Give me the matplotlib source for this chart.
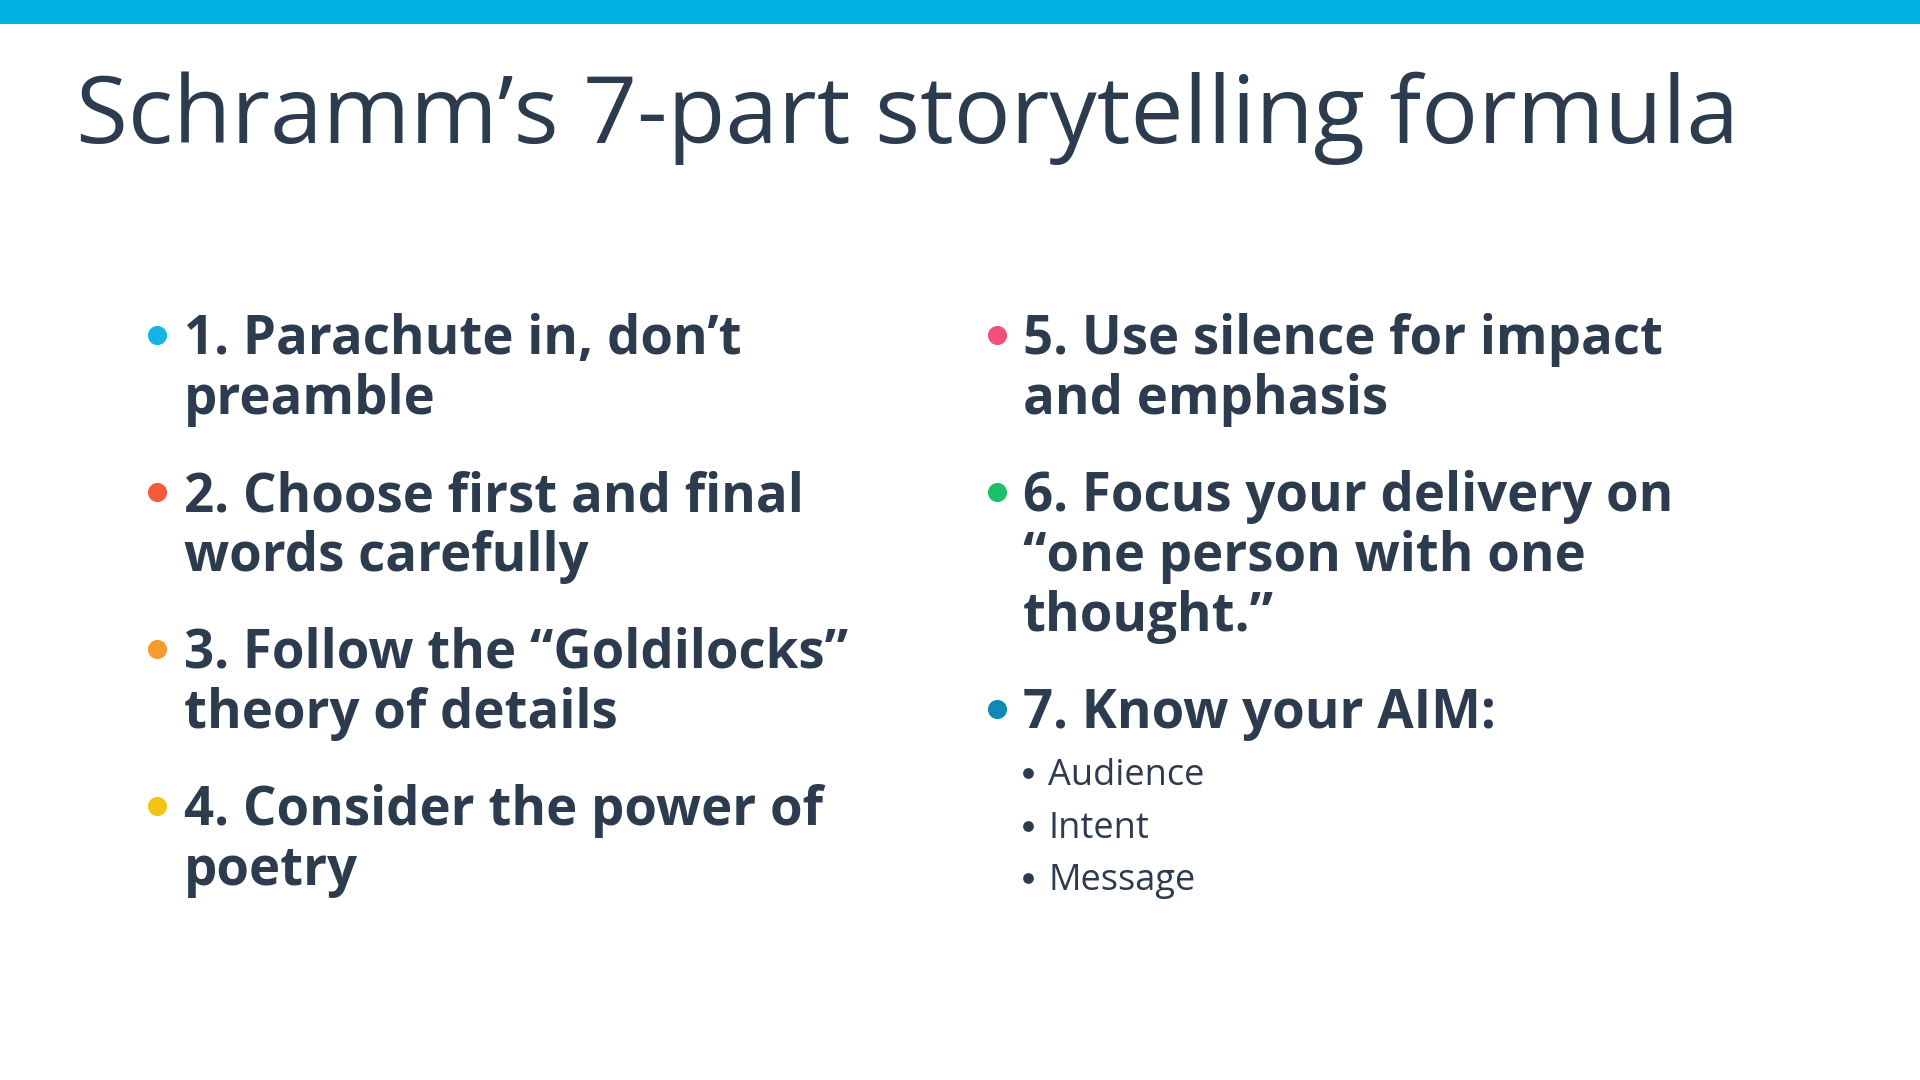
import matplotlib
matplotlib.use("Agg")
import matplotlib.pyplot as plt

# ---- content ----
title = "Schramm\u2019s 7-part storytelling formula"
left_items = [
    ["1. Parachute in, don\u2019t", "preamble"],
    ["2. Choose first and final", "words carefully"],
    ["3. Follow the \u201cGoldilocks\u201d", "theory of details"],
    ["4. Consider the power of", "poetry"],
]
right_items = [
    ["5. Use silence for impact", "and emphasis"],
    ["6. Focus your delivery on", "\u201cone person with one", "thought.\u201d"],
    ["7. Know your AIM:"],
]
sub_items = ["Audience", "Intent", "Message"]
left_colors = ["#14B4E8", "#F55A3C", "#F99A2E", "#F2C515"]
right_colors = ["#F2507B", "#1CC06B", "#1189B6"]

TEXT = "#2C3B4D"
BAR = "#00B2E3"

W, H = 1920, 1080
fig = plt.figure(figsize=(19.2, 10.8), dpi=100)
ax = fig.add_axes([0, 0, 1, 1])
ax.set_xlim(0, W)
ax.set_ylim(H, 0)
ax.axis("off")

# top bar
ax.add_patch(plt.Rectangle((0, 0), W, 24, color=BAR, lw=0))

# title
ax.text(76, 143, title, fontsize=68, family="Open Sans", color=TEXT,
        va="baseline", ha="left")

LINE = 60
GAP = 97
FS = 38


def column(items, colors, x_bullet, x_text, y0):
    y = y0
    for lines, c in zip(items, colors):
        ax.scatter([x_bullet], [y - 19], s=190, color=c, lw=0, zorder=3)
        for k, ln in enumerate(lines):
            ax.text(x_text, y + k * LINE, ln, fontsize=FS, family="Open Sans",
                    fontweight="bold", color=TEXT, va="baseline", ha="left")
        y += (len(lines) - 1) * LINE + GAP
    return y - GAP


column(left_items, left_colors, 157, 184, 354)
last = column(right_items, right_colors, 997, 1023, 354)

# sub bullets
ys = last + 57
for i, s in enumerate(sub_items):
    yy = ys + i * 52.5
    ax.scatter([1028], [yy - 12], s=60, color=TEXT, lw=0, zorder=3)
    ax.text(1048, yy, s, fontsize=26, family="Open Sans", color=TEXT,
            va="baseline", ha="left")

fig.savefig("out.png", dpi=100, facecolor="white")
